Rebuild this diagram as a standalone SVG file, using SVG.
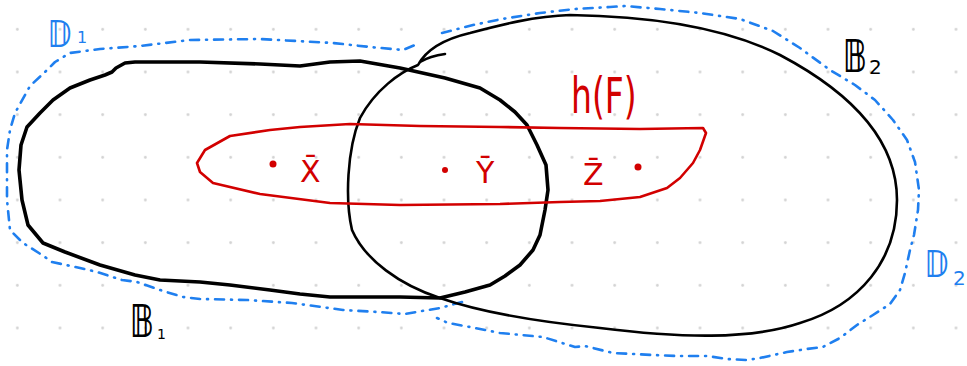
<svg xmlns="http://www.w3.org/2000/svg" width="967" height="366" viewBox="0 0 967 366">
  <defs>
    <pattern id="grid" patternUnits="userSpaceOnUse" x="-4" y="8" width="42.667" height="42.667">
      <circle cx="21.33" cy="21.33" r="1.4" fill="#d2d2d2"/>
    </pattern>
    <style>
      .b1 { fill: none; stroke: #000; stroke-width: 3.6; stroke-linejoin: round; stroke-linecap: round; }
      .b2 { fill: none; stroke: #000; stroke-width: 2.6; stroke-linejoin: round; stroke-linecap: round; }
      .hf { fill: none; stroke: #d20000; stroke-width: 2.6; stroke-linejoin: round; stroke-linecap: round; }
      .dd { fill: none; stroke: #1f7fef; stroke-width: 2.6; stroke-linecap: round; stroke-linejoin: round; stroke-dasharray: 9 7 1 7; }
      .lbl { font-family: "DejaVu Sans", "Liberation Sans", sans-serif; }
      .ds { font-weight: bold; }
      .red { fill: #d20000; }
      .blue { fill: #1f7fef; }
      .blk { fill: #000; }
    </style>
  </defs>
  <rect width="967" height="366" fill="#fff"/>
  <rect width="967" height="366" fill="url(#grid)"/>

  <g id="D1">
    <path class="dd" d="M 462,302 L 440,308 L 422,311 L 405,314 L 378,312 L 343,310 L 292,303 L 247,300 L 200,299 L 183,297 L 160,290 L 137,282 L 122,280 L 97,272 L 80,268 L 52,262 L 42,255 L 23,243 L 10,230 L 7,200 L 7,150 L 10,130 L 15,113 L 30,86 L 45,72 L 55,62 L 70,53 L 100,49 L 140,46 L 190,40 L 260,39 L 333,43 L 370,47 L 403,50 L 415,45"/>
    <text class="lbl ds blue" transform="translate(48,47) scale(0.75,1)" font-size="38">𝔻</text>
    <text class="lbl blue" x="77" y="43" font-size="16">1</text>
  </g>

  <g id="D2">
    <path class="dd" d="M 442,33 L 473,25 L 502,19 L 540,13 L 575,9 L 610,7 L 625,6 L 660,9 L 700,13 L 740,19 L 773,31 L 800,48 L 830,70 L 855,85 L 875,100 L 893,120 L 907,140 L 915,162 L 919,190 L 918,210 L 914,235 L 910,250 L 905,273 L 900,290 L 890,304 L 873,315 L 857,325 L 840,338 L 823,347 L 807,349 L 787,352 L 760,358 L 747,360 L 727,359 L 707,356 L 677,356 L 653,355 L 613,353 L 585,346 L 575,347 L 543,337 L 500,333 L 470,327 L 448,323 L 437,318"/>
    <text class="lbl ds blue" transform="translate(925,277) scale(0.75,1)" font-size="38">𝔻</text>
    <text class="lbl blue" x="953" y="285" font-size="20">2</text>
  </g>

  <g id="B1">
    <path class="b1" d="M 135,62 L 200,62 L 260,64 L 300,66 L 330,62 L 360,61 L 400,68 L 445,78 L 480,88 L 500,100 L 515,112 L 527,125 L 537,145 L 546,165 L 548,190 L 545,210 L 540,235 L 533,250 L 520,265 L 505,276 L 490,285 L 465,292 L 440,298 L 400,297 L 330,297 L 300,294 L 270,290 L 230,285 L 200,282 L 160,280 L 135,275 L 100,265 L 65,252 L 43,243 L 28,225 L 22,200 L 19,170 L 21,145 L 27,127 L 40,113 L 53,100 L 70,88 L 90,80 L 105,75 L 112,72 L 116,68 L 125,63 Z"/>
    <text class="lbl ds blk" transform="translate(130,337) scale(0.7,1)" font-size="44">𝔹</text>
    <text class="lbl blk" x="157" y="339" font-size="14">1</text>
  </g>

  <g id="B2">
    <path class="b2" d="M 570,15 C 640,16 720,25 780,55 C 850,92 897,140 897,200 C 897,260 860,305 800,323 C 750,340 680,338 600,328 C 540,322 480,312 440,298 C 400,285 365,260 352,230 C 345,200 347,150 360,118 C 375,90 400,72 418,65 C 425,52 440,40 470,33 C 500,25 535,16 570,15 Z"/>
    <path class="b2" d="M 420,62 Q 430,56 445,54"/>
    <text class="lbl ds blk" transform="translate(843,72) scale(0.7,1)" font-size="44">𝔹</text>
    <text class="lbl blk" x="869" y="74" font-size="20">2</text>
  </g>

  <g id="hF">
    <path class="hf" d="M 197,163 L 205,150 L 230,136 L 270,130 L 300,127 L 350,124 L 420,126 L 500,127 L 560,128 L 640,129 L 703,128 L 706,133 L 700,150 L 693,163 L 680,178 L 667,188 L 640,197 L 600,201 L 560,202 L 500,204 L 400,205 L 330,203 L 260,194 L 213,183 L 200,172 Z"/>
    <text class="lbl red" transform="translate(571,113) scale(0.75,1.15)" font-size="44">h(F)</text>
  </g>

  <g id="points">
    <circle class="red" cx="273" cy="164" r="3.5"/>
    <circle class="red" cx="445" cy="170" r="3"/>
    <circle class="red" cx="638" cy="167" r="3.5"/>
    <text class="lbl red" x="300" y="182" font-size="30">X̄</text>
    <text class="lbl red" x="476" y="183" font-size="30">Ȳ</text>
    <text class="lbl red" x="583" y="185" font-size="30">Z̄</text>
  </g>
</svg>
